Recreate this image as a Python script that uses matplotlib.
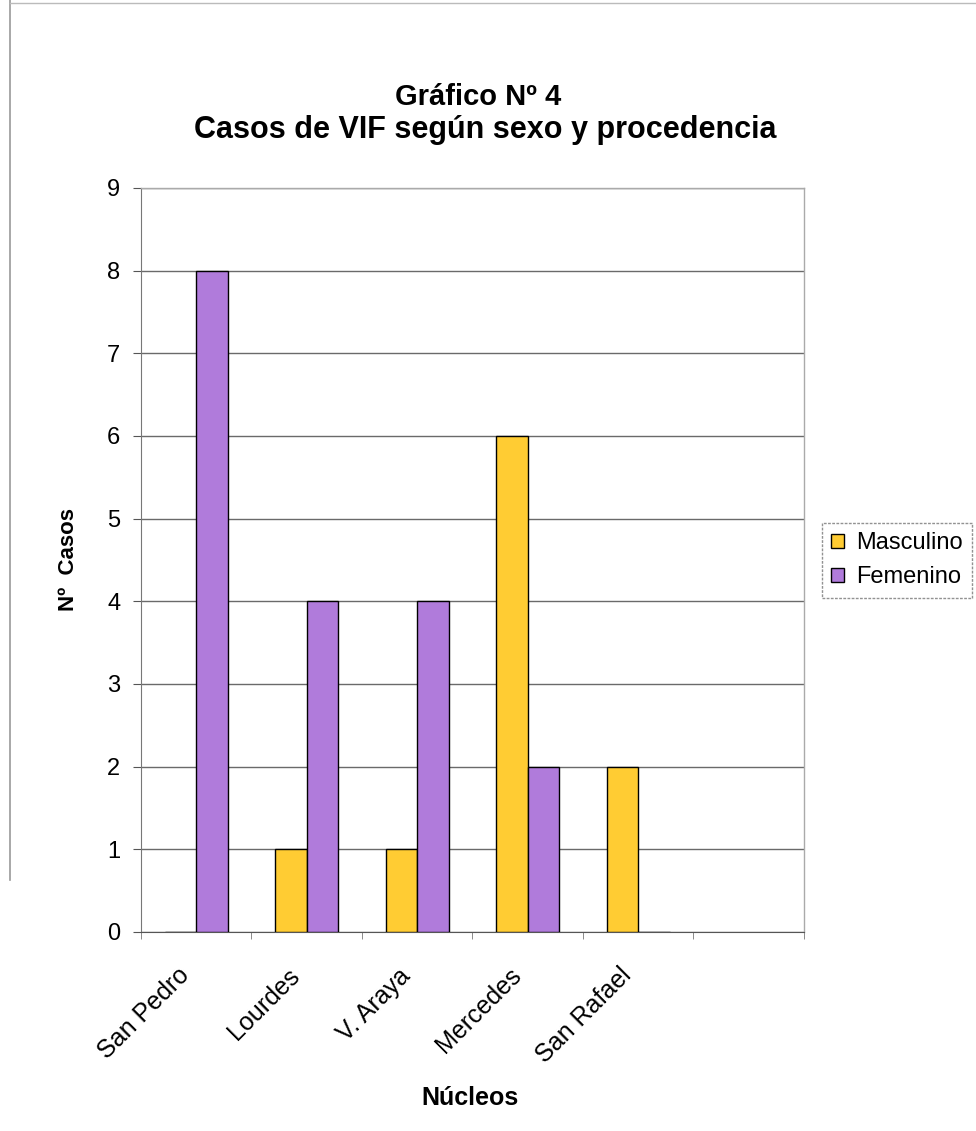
import matplotlib
matplotlib.use("Agg")
import matplotlib.pyplot as plt
import numpy as np
from matplotlib.lines import Line2D
from matplotlib.ticker import MultipleLocator, FixedLocator
from matplotlib.transforms import ScaledTranslation

plt.rcParams['font.family'] = ['Liberation Sans', 'DejaVu Sans']

categories = ["San Pedro", "Lourdes", "V. Araya", "Mercedes", "San Rafael"]
masculino = [0, 1, 1, 6, 2]
femenino = [8, 4, 4, 2, 0]
n_slots = 6  # Excel axis shows one extra empty category slot

col_m = '#FFCC33'
col_f = '#B07BDB'

fig = plt.figure(figsize=(9.76, 11.31), dpi=100)
ax = fig.add_axes([0.1445, 0.176, 0.679, 0.6578])

x = np.arange(len(categories))
w = 1 / 3.5
ax.bar(x - w / 2, masculino, width=w, color=col_m, edgecolor='black', linewidth=1.0,
       label='Masculino', zorder=3)
ax.bar(x + w / 2, femenino, width=w, color=col_f, edgecolor='black', linewidth=1.0,
       label='Femenino', zorder=3)

ax.set_xlim(-0.5, n_slots - 0.5)
ax.set_ylim(0, 9)
ax.yaxis.set_major_locator(MultipleLocator(1))
ax.yaxis.grid(True, color='#6a6a6a', linewidth=1.0, zorder=0)
ax.set_axisbelow(True)

ax.set_xticks(x)
ax.set_xticklabels(categories, rotation=45, ha='right', rotation_mode='anchor',
                   fontsize=18)
ax.tick_params(axis='x', which='major', length=0, pad=14)
offset = ScaledTranslation(-19 / 100, -12 / 100, fig.dpi_scale_trans)
for lab in ax.get_xticklabels():
    lab.set_transform(lab.get_transform() + offset)
ax.xaxis.set_minor_locator(FixedLocator(np.arange(-0.5, n_slots, 1.0)))
ax.tick_params(axis='x', which='minor', length=5, color='#777777', direction='out')
ax.tick_params(axis='y', which='major', length=6, color='#555555', direction='out',
               labelsize=17, pad=9)

for side in ['top', 'right']:
    ax.spines[side].set_color('#aaaaaa')
    ax.spines[side].set_linewidth(1.0)
ax.spines['left'].set_color('#777777')
ax.spines['bottom'].set_color('#555555')

ax.set_ylabel('Nº  Casos', fontsize=16, fontweight='bold', labelpad=20)
fig.text(470 / 976, 1 - 1098 / 1131, 'Núcleos', ha='center', va='center',
         fontsize=18, fontweight='bold')

fig.text(0.490, 1 - 97 / 1131, 'Gráfico Nº 4', ha='center', va='center', fontsize=21,
         fontweight='bold')
fig.text(0.497, 1 - 130 / 1131, 'Casos de VIF según sexo y procedencia', ha='center',
         va='center', fontsize=22, fontweight='bold')

leg = fig.legend(loc='upper left', bbox_to_anchor=(822 / 976, 1 - 523 / 1131),
                 fontsize=17, frameon=True, fancybox=False, handlelength=0.55,
                 handleheight=0.55, handletextpad=0.5, borderpad=0.4,
                 labelspacing=0.5, borderaxespad=0)
leg.get_frame().set_edgecolor('#777777')
leg.get_frame().set_linestyle((0, (2, 1)))
leg.get_frame().set_linewidth(1.0)

# scanned chart-area border (left and top edges)
fig.add_artist(Line2D([10 / 976, 10 / 976], [1 - 880 / 1131, 1.0],
                      transform=fig.transFigure, color='#999999', linewidth=1.2))
fig.add_artist(Line2D([10 / 976, 1.0], [1 - 3 / 1131, 1 - 3 / 1131],
                      transform=fig.transFigure, color='#bbbbbb', linewidth=1.0))

fig.savefig('out.png', dpi=100, facecolor='white')
